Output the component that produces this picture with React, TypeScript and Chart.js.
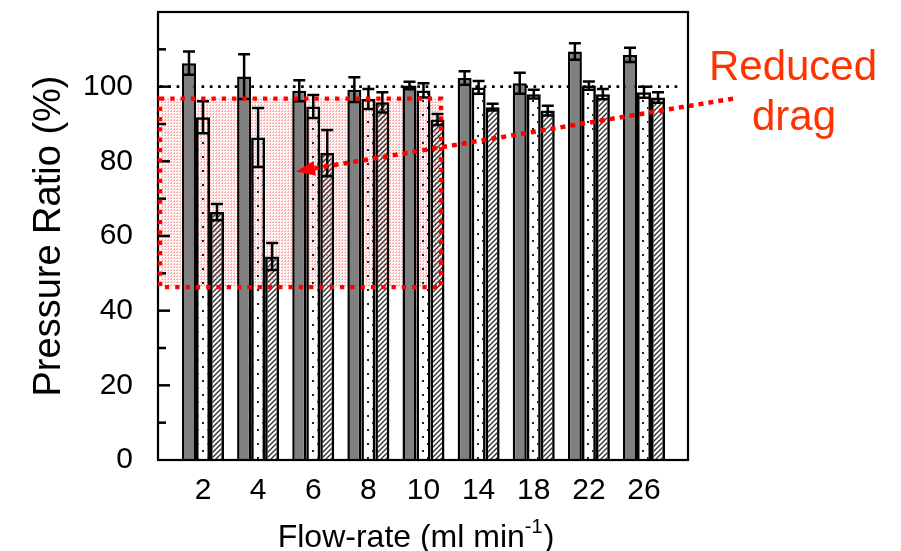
import { useEffect, useRef } from 'react';
import { Chart, registerables } from 'chart.js';

Chart.register(...registerables);

// ---- data ----
const flowRates = ['2', '4', '6', '8', '10', '14', '18', '22', '26'];
const seriesA = [106.3, 102.7, 98.9, 99.2, 100.3, 102.3, 100.9, 109.4, 108.5];
const errA = [3.1, 6.0, 2.8, 3.3, 1.0, 1.8, 2.8, 2.2, 1.9];
const seriesB = [91.8, 86.4, 94.7, 96.7, 99.0, 99.8, 98.0, 100.3, 98.5];
const errB = [4.3, 7.9, 3.1, 2.7, 1.9, 1.7, 1.2, 1.1, 1.5];
const seriesC = [66.4, 54.5, 82.2, 95.8, 91.2, 94.5, 93.6, 98.0, 97.1];
const errC = [2.2, 3.6, 6.2, 2.7, 1.5, 0.9, 1.3, 1.4, 1.4];
const yTickLabels = [0, 20, 40, 60, 80, 100];
const referenceLevel = 100;

// annotation (data units)
const reducedBox = { xMin: 0.22, xMax: 5.32, yMin: 46.3, yMax: 96.8 };
const arrowFrom = { x: 10.615, y: 96.8 };
const arrowTo = { x: 2.687, y: 77.3 };
const annotationText = ['Reduced', 'drag'];

const FONT = '"Liberation Sans", Arial, Helvetica, sans-serif';

function makePattern(draw: (ctx: CanvasRenderingContext2D) => void, w: number, h: number) {
  const c = document.createElement('canvas');
  c.width = w;
  c.height = h;
  const ctx = c.getContext('2d')!;
  draw(ctx);
  return ctx.createPattern(c, 'repeat')!;
}

export default function App() {
  const ref = useRef<HTMLCanvasElement>(null);

  useEffect(() => {
    const canvas = ref.current!;
    const ctx0 = canvas.getContext('2d')!;

    const dotPattern = makePattern((c) => {
      c.fillStyle = '#222';
      c.fillRect(2, 2, 2, 2);
      c.fillRect(7, 9, 2, 2);
    }, 10, 14);

    const hatchPattern = makePattern((c) => {
      c.strokeStyle = '#333';
      c.lineWidth = 1.4;
      c.beginPath();
      c.moveTo(-1, 6);
      c.lineTo(6, -1);
      c.moveTo(-1, 1);
      c.lineTo(1, -1);
      c.moveTo(4, 6);
      c.lineTo(6, 4);
      c.stroke();
    }, 5, 5);

    const pinkPattern = makePattern((c) => {
      c.fillStyle = 'rgba(255,90,90,0.5)';
      c.fillRect(0, 0, 1, 1);
      c.fillRect(0, 2, 1, 1);
      c.fillRect(2, 0, 1, 1);
      c.fillStyle = 'rgba(255,150,150,0.25)';
      c.fillRect(1, 1, 1, 1);
    }, 3, 3);

    const toPts = (arr: number[]) => arr.map((y, i) => ({ x: i + 1, y }));
    const errs = [errA, errB, errC];

    const decor = {
      id: 'decor',
      beforeDatasetsDraw(chart: any) {
        const { ctx, chartArea: a, scales } = chart;
        const x = scales.x, y = scales.y;
        ctx.save();
        const bx0 = x.getPixelForValue(reducedBox.xMin);
        const bx1 = x.getPixelForValue(reducedBox.xMax);
        const by0 = y.getPixelForValue(reducedBox.yMax);
        const by1 = y.getPixelForValue(reducedBox.yMin);
        ctx.fillStyle = pinkPattern;
        ctx.fillRect(bx0, by0, bx1 - bx0, by1 - by0);
        const ry = y.getPixelForValue(referenceLevel);
        ctx.strokeStyle = '#000';
        ctx.lineWidth = 2.7;
        ctx.setLineDash([2.7, 5.6]);
        ctx.beginPath();
        ctx.moveTo(a.left + 2, ry);
        ctx.lineTo(a.right - 8, ry);
        ctx.stroke();
        ctx.restore();
      },
      afterDatasetsDraw(chart: any) {
        const { ctx, chartArea: a, scales } = chart;
        const x = scales.x, y = scales.y;
        ctx.save();
        ctx.strokeStyle = '#000';
        ctx.lineWidth = 2.5;
        ctx.setLineDash([]);
        chart.data.datasets.forEach((ds: any, di: number) => {
          const meta = chart.getDatasetMeta(di);
          meta.data.forEach((el: any, i: number) => {
            const v = ds.data[i].y;
            const e = errs[di][i];
            const cx = el.x;
            const half = el.width / 2 - 1;
            const yt = y.getPixelForValue(v + e);
            const yb = y.getPixelForValue(v - e);
            ctx.beginPath();
            ctx.moveTo(cx, yt);
            ctx.lineTo(cx, yb);
            ctx.moveTo(cx - half, yt);
            ctx.lineTo(cx + half, yt);
            ctx.moveTo(cx - half, yb);
            ctx.lineTo(cx + half, yb);
            ctx.stroke();
          });
        });
        ctx.lineWidth = 2.2;
        ctx.strokeRect(a.left, a.top, a.right - a.left, a.bottom - a.top);
        ctx.lineWidth = 2.5;
        y.ticks.forEach((t: any) => {
          if (t.value <= 0 || t.value >= 120) return;
          const py = y.getPixelForValue(t.value);
          const len = t.value % 20 === 0 ? 12 : 8;
          ctx.beginPath();
          ctx.moveTo(a.left, py);
          ctx.lineTo(a.left + len, py);
          ctx.stroke();
        });
        const bx0 = x.getPixelForValue(reducedBox.xMin);
        const bx1 = x.getPixelForValue(reducedBox.xMax);
        const by0 = y.getPixelForValue(reducedBox.yMax);
        const by1 = y.getPixelForValue(reducedBox.yMin);
        ctx.strokeStyle = '#ff0000';
        ctx.lineWidth = 4.3;
        ctx.setLineDash([4.3, 6]);
        ctx.strokeRect(bx0, by0, bx1 - bx0, by1 - by0);
        const ax0 = x.getPixelForValue(arrowFrom.x);
        const ay0 = y.getPixelForValue(arrowFrom.y);
        const ax1 = x.getPixelForValue(arrowTo.x);
        const ay1 = y.getPixelForValue(arrowTo.y);
        const ang = Math.atan2(ay1 - ay0, ax1 - ax0);
        const headLen = 19;
        const headHalf = 7.5;
        const hx = ax1 - headLen * Math.cos(ang);
        const hy = ay1 - headLen * Math.sin(ang);
        ctx.lineWidth = 4.5;
        ctx.setLineDash([5, 5]);
        ctx.beginPath();
        ctx.moveTo(ax0, ay0);
        ctx.lineTo(hx, hy);
        ctx.stroke();
        ctx.setLineDash([]);
        ctx.fillStyle = '#ff0000';
        ctx.beginPath();
        ctx.moveTo(ax1, ay1);
        ctx.lineTo(hx + headHalf * Math.sin(ang), hy - headHalf * Math.cos(ang));
        ctx.lineTo(hx - headHalf * Math.sin(ang), hy + headHalf * Math.cos(ang));
        ctx.closePath();
        ctx.fill();
        ctx.restore();
      },
      afterDraw(chart: any) {
        const { ctx, chartArea: a } = chart;
        ctx.save();
        ctx.fillStyle = '#ff3300';
        ctx.font = `42px ${FONT}`;
        ctx.textAlign = 'center';
        ctx.textBaseline = 'alphabetic';
        ctx.fillText(annotationText[0], a.right + 105, 80);
        ctx.fillText(annotationText[1], a.right + 106, 130);
        ctx.fillStyle = '#000';
        const main = 'Flow-rate (ml min';
        const sup = '-1';
        const end = ')';
        ctx.font = `32px ${FONT}`;
        const wMain = ctx.measureText(main).width;
        const wEnd = ctx.measureText(end).width;
        ctx.font = `20px ${FONT}`;
        const wSup = ctx.measureText(sup).width;
        const total = wMain + wSup + wEnd + 1;
        const cx = (a.left + a.right) / 2 - 7;
        let px = cx - total / 2;
        const base = 547;
        ctx.textAlign = 'left';
        ctx.font = `32px ${FONT}`;
        ctx.fillText(main, px, base);
        px += wMain;
        ctx.font = `20px ${FONT}`;
        ctx.fillText(sup, px, base - 14);
        px += wSup + 1;
        ctx.font = `32px ${FONT}`;
        ctx.fillText(end, px, base);
        ctx.restore();
      },
    };

    const chart = new Chart(ctx0, {
      type: 'bar',
      data: {
        datasets: [
          { label: 'A', data: toPts(seriesA), backgroundColor: '#808080', borderColor: '#000', borderWidth: 2.5 },
          { label: 'B', data: toPts(seriesB), backgroundColor: dotPattern, borderColor: '#000', borderWidth: 2.5 },
          { label: 'C', data: toPts(seriesC), backgroundColor: hatchPattern, borderColor: '#000', borderWidth: 2.5 },
        ],
      },
      options: {
        animation: false,
        responsive: true,
        maintainAspectRatio: false,
        layout: { padding: { left: 0, top: 12, right: 213, bottom: 0 } },
        categoryPercentage: 0.762,
        barPercentage: 1,
        plugins: {
          legend: { display: false },
          tooltip: { enabled: false },
        },
        scales: {
          x: {
            type: 'linear',
            offset: false,
            min: 0.184,
            max: 9.798,
            grid: { display: false, drawTicks: false },
            border: { display: false },
            afterBuildTicks: (scale: any) => {
              scale.ticks = flowRates.map((_, i) => ({ value: i + 1 }));
            },
            afterFit: (scale: any) => {
              scale.height = 91;
              scale.paddingLeft = 0;
              scale.paddingRight = 0;
            },
            ticks: {
              padding: 13,
              color: '#000',
              font: { family: FONT, size: 30, lineHeight: 1.2 },
              maxRotation: 0,
              autoSkip: false,
              callback: (v: any) => {
                const i = Math.round(Number(v)) - 1;
                return flowRates[i] ?? '';
              },
            },
          },
          y: {
            min: 0,
            max: 120,
            grid: { display: false, drawTicks: false },
            border: { display: false },
            afterFit: (scale: any) => {
              scale.width = 158;
              scale.paddingTop = 0;
              scale.paddingBottom = 0;
            },
            ticks: {
              stepSize: 10,
              padding: 25,
              color: '#000',
              font: { family: FONT, size: 30 },
              autoSkip: false,
              callback: (v: any) => (yTickLabels.includes(Number(v)) ? String(v) : ''),
            },
            title: {
              display: true,
              text: 'Pressure Ratio (%)',
              color: '#000',
              font: { family: FONT, size: 38, lineHeight: 1 },
              padding: { top: 31, bottom: 0 },
            },
          },
        },
      },
      plugins: [decor],
    } as any);

    return () => chart.destroy();
  }, []);

  return (
    <div style={{ position: 'absolute', left: 0, top: 0, width: 901, height: 551, background: '#fff' }}>
      <canvas ref={ref} />
    </div>
  );
}
